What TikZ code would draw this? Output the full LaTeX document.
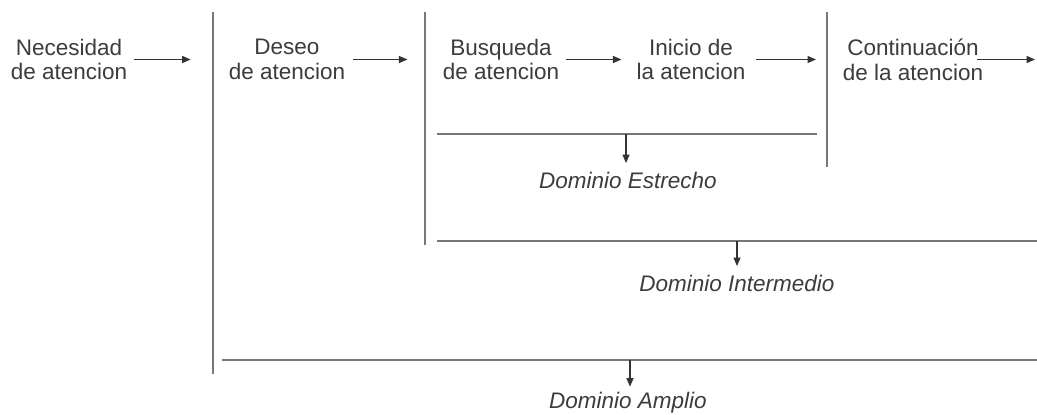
\documentclass[tikz,border=0pt]{standalone}
\usepackage{fontspec}
\setmainfont{Liberation Sans}
\usetikzlibrary{arrows.meta}
\definecolor{rulegray}{RGB}{120,120,120}
\definecolor{textgray}{RGB}{60,60,60}
\tikzset{
	stage/.style={align=center, font=\fontsize{16}{17.7}\selectfont, text=textgray, inner sep=0pt},
	domainlabel/.style={font=\fontsize{16}{17.7}\selectfont\itshape, text=textgray, inner sep=0pt},
	bar/.style={rulegray, line width=1.6pt},
	flow/.style={black!80, line width=0.8pt, -{Triangle[length=6pt,width=5pt]}}
}
\begin{document}
\begin{tikzpicture}[x=0.025cm, y=-0.025cm]
		%%%%% START %%%%%
		\useasboundingbox (0, 0) rectangle (1037, 414);
		
		\node[stage] (nec) at (69, 59.5) {Necesidad\\de atencion};
		\node[stage] (des) at (287, 59.5) {Deseo\\de atencion};
		\node[stage] (bus) at (501, 59.5) {Busqueda\\de atencion};
		\node[stage] (ini) at (691, 59.5) {Inicio de\\la atencion};
		\node[stage] (con) at (913, 59.5) {Continuación\\de la atencion};
		\coordinate (out) at (1035, 59.5);
		
		\draw[flow] ([xshift=5pt]nec.east) -- ([xshift=-27pt]des.west);
		\draw[flow] ([xshift=5.7pt]des.east) -- ([xshift=-25pt]bus.west);
		\draw[flow] ([xshift=5pt]bus.east) -- ([xshift=-10.6pt]ini.west);
		\draw[flow] ([xshift=7pt]ini.east) -- ([xshift=-19pt]con.west);
		\draw[flow] ([xshift=-4.3pt]con.east) -- (out);
		
		\draw[bar] (213, 12) -- (213, 374);
		\draw[bar] (425, 12) -- (425, 245);
		\draw[bar] (827, 12) -- (827, 167);
		
		\draw[bar] (437, 134) -- (817, 134);
		\draw[bar] (437, 241) -- (1037, 241);
		\draw[bar] (222, 360) -- (1037, 360);
		
		\node[domainlabel] (est) at (628, 180) {Dominio Estrecho};
		\node[domainlabel] (int) at (737, 283) {Dominio Intermedio};
		\node[domainlabel] (amp) at (628, 403) {Dominio Amplio};
		
		\coordinate (e0) at (626, 134);
		\coordinate (i0) at (737, 241);
		\coordinate (a0) at (630, 360);
		\draw[flow] (e0) -- ([yshift=6pt]est.north -| e0);
		\draw[flow] (i0) -- ([yshift=6pt]int.north -| i0);
		\draw[flow] (a0) -- ([yshift=4pt]amp.north -| a0);
		%%%%% END %%%%%
	\end{tikzpicture}
\end{document}
